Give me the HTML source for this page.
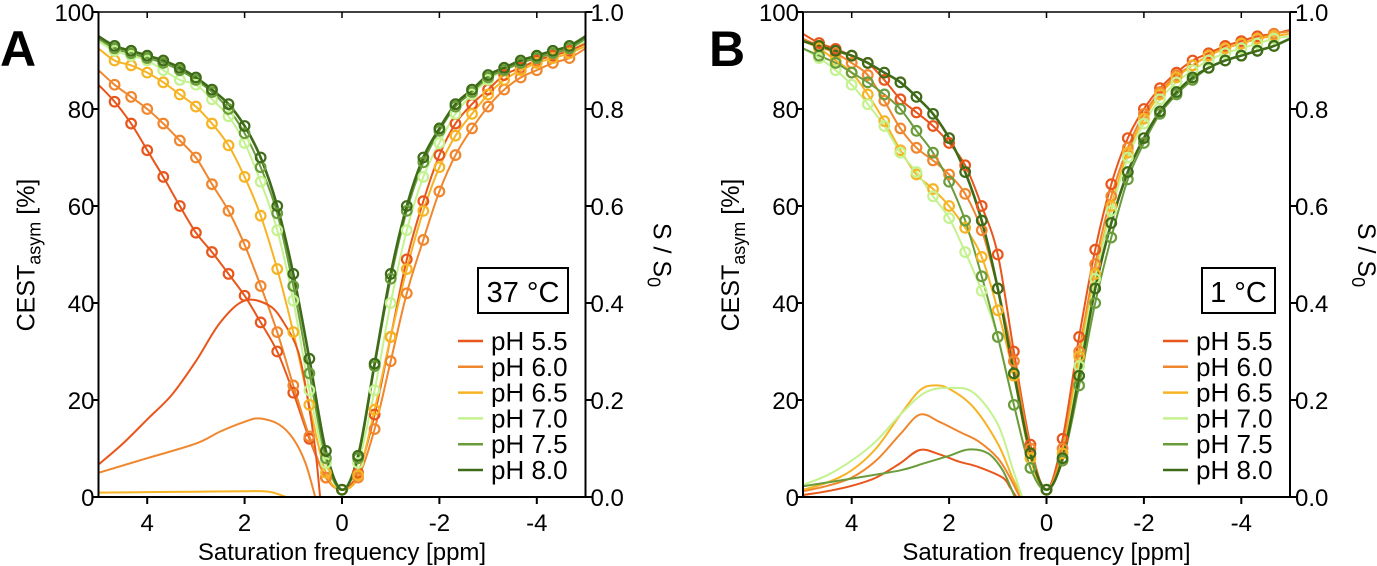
<!DOCTYPE html>
<html><head><meta charset="utf-8">
<style>
body{margin:0;background:#fff;}
svg{display:block;font-family:"Liberation Sans",sans-serif;}
</style></head>
<body>
<svg id="chart" width="1377" height="566" viewBox="0 0 1377 566"></svg>
<script>
const offsets=[5,4.67,4.33,4,3.67,3.33,3,2.67,2.33,2,1.67,1.33,1,0.67,0.33,0,-0.33,-0.67,-1,-1.33,-1.67,-2,-2.33,-2.67,-3,-3.33,-3.67,-4,-4.33,-4.67,-5];
const seriesNames=["pH 5.5","pH 6.0","pH 6.5","pH 7.0","pH 7.5","pH 8.0"];
const seriesColors=["#e8561c","#f0872e","#f6b425","#c4f28f","#6b9c3c","#3d6b18"];
const xTicks=[4,2,0,-2,-4];
const xTickLabels=["4","2","0","-2","-4"];
const yTicks=[0,20,40,60,80,100];
const yTickLabels=["0","20","40","60","80","100"];
const yRightLabels=["0.0","0.2","0.4","0.6","0.8","1.0"];
// Panel A Z-spectra (%)
const zA55=[85,81.5,77,71.5,66,60,54.5,50.5,46,41.5,36,30,21.5,12,4,1.5,5,17,33,49,61,70.5,77,81,84,87,88.5,90,91,92,93.5];
const zA60=[88,85,82.5,80,77,73.5,70,64.5,59,52,43.5,34,23,12.5,4,1.5,4,14,28,42,53,63,70.5,76,80.5,84,86.5,88,89.5,90.5,92.5];
const zA65=[92.5,90,89,87.5,85.5,83,80.5,77,72.5,66,58,47,34,19,5,1.5,4.5,18,33,47,59,68,74.5,79,83,86,88,89.5,90.5,91.5,93];
const zA70=[94,92,91,90,88,86,85,82,78.5,73,65,55,40.5,22,7,1.5,7,22,40,55,66,73,79,83,86,88,89.5,90.5,91.5,92.5,94];
const zA75=[94.5,92.5,91.5,90.5,89.5,88,86,83.5,80,75,68,58.5,43.5,25.5,8,1.5,8,27,45,59,69,75.5,80.5,83.5,86.5,88,89.5,90.5,91.5,92.5,94.5];
const zA80=[95,93,92,91,90,88.5,86.5,84,81,76.5,70,60,46,28.5,9.5,1.5,8.5,27.5,46,60,70,76,81,84,87,88.5,90,91,92,93,95];
// Panel A CEST asym
const cA55x=[5,4.5,4,3.5,3,2.5,2,1.5,1.2,0.9,0.7,0.55,0.45];
const cA55y=[6.7,11,16,21,28,36,40.5,39.5,36,30,20,10,0];
const cA60x=[5,4,3,2.5,2,1.7,1.3,1,0.75,0.55];
const cA60y=[5,8,11,13.5,15.5,16.2,15,12,7,0];
const cA65x=[5,4,3,2,1.5,1.15];
const cA65y=[0.9,1,1.1,1.2,1.1,0];
// Panel B Z-spectra (%)
const zB55=[95.5,93.6,92.4,91,89.5,86,82,79.3,76.5,73,68.4,60,50,30,10.8,1.5,12,33,51,64.5,74,80,84.3,87.5,90,91.5,93,94,95,95.5,96.3];
const zB60=[94.5,93,91.5,89.5,87,81.7,76,72,69.4,66.5,62.5,55,43,28,10,1.5,10,30,48,62,72,79,83.5,87,89,91,92.5,93.5,94.5,95.5,96];
const zB65=[94,92.5,90,87.5,83,77.5,71.5,66.5,63.5,60,55.5,49.5,38.5,25,8,1.5,9,29,46,60,71,78,83,86.5,89,91,92.5,93.5,94.5,95,95.5];
const zB70=[92.5,90.5,88,85,81,76.5,71,67,62,57.5,50.5,42.5,33,19,6,1.5,8,27,45,59,70,77,82,85.5,88,90,91.5,92.5,93.5,94.5,95];
const zB75=[92.5,91,89.5,87.5,85.5,83,80,75.5,71,65,57,45.5,33,19,6,1.5,7.5,23,40,53.5,65.5,73,79,83,86,88.5,90,91,92,93,94.5];
const zB80=[94,93,92,91,89.5,87.5,85.5,82.5,79,74,67,57,43,25.5,9,1.5,8,25,43,56.5,67,74,79.5,83.5,86.5,88.5,90,91,92,93,94.5];
// Panel B CEST asym
const cB55x=[5,4.5,4,3.5,3,2.6,2.2,1.8,1.4,0.9,0.75,0.62];
const cB55y=[0.4,1.2,2.3,4,7,9.7,8.8,7.3,6.2,4,2,0];
const cB60x=[5,4.5,4,3.5,3,2.6,2.2,1.8,1.4,1,0.75,0.55];
const cB60y=[1.2,2.3,4,7.5,13,17,15.5,13.5,11.5,8,4,0];
const cB65x=[5,4.5,4,3.5,3,2.6,2.3,2,1.5,1,0.7,0.5];
const cB65y=[1.5,3,5.5,10,17,22,23,22.3,18.5,11,4,0];
const cB70x=[5,4.5,4,3.5,3,2.5,2,1.5,1,0.7,0.5];
const cB70y=[2.5,4.5,7.5,11.5,17,21.5,22.5,21.5,15,6,0];
const cB75x=[5,4,3,2.5,2,1.6,1.2,0.9,0.65];
const cB75y=[2.2,3.8,5.5,7,8.5,9.8,9,5.5,0];

const NS="http://www.w3.org/2000/svg";
const svg=document.getElementById('chart');
function mk(tag,attrs,parent){const e=document.createElementNS(NS,tag);for(const k in attrs)e.setAttribute(k,attrs[k]);(parent||svg).appendChild(e);return e;}
function smooth(pts){let d="M"+pts[0][0].toFixed(1)+","+pts[0][1].toFixed(1);for(let i=0;i<pts.length-1;i++){const p0=pts[i-1]||pts[i],p1=pts[i],p2=pts[i+1],p3=pts[i+2]||p2;const c1=[p1[0]+(p2[0]-p0[0])/6,p1[1]+(p2[1]-p0[1])/6],c2=[p2[0]-(p3[0]-p1[0])/6,p2[1]-(p3[1]-p1[1])/6];d+="C"+c1[0].toFixed(1)+","+c1[1].toFixed(1)+" "+c2[0].toFixed(1)+","+c2[1].toFixed(1)+" "+p2[0].toFixed(1)+","+p2[1].toFixed(1);}return d;}

function panel(cfg){
  const g=mk('g',{});
  
  
  const L=cfg.left,R=cfg.right,T=12,B=497;
  const xs=v=>L+(5-v)/10*(R-L);
  const ys=v=>B-v/100*(B-T);
  cfg.z.forEach((arr,i)=>{
    const p=mk('path',{d:smooth(offsets.map((o,j)=>[xs(o),ys(arr[j])])),fill:'none',stroke:seriesColors[i],'stroke-width':i==5?2.6:2},g);
    
    
  });
  cfg.c.forEach(s=>{
    const p=mk('path',{d:smooth(s.x.map((o,j)=>[xs(o),ys(s.y[j])])),fill:'none',stroke:seriesColors[s.i],'stroke-width':2},g);
    
    
  });
  cfg.z.forEach((arr,i)=>{
    for(let j=1;j<offsets.length-1;j++){
      const c=mk('circle',{cx:xs(offsets[j]),cy:ys(arr[j]),r:4.8,fill:'none',stroke:seriesColors[i],'stroke-width':2.2},g);
      
      
    }
  });
  const ax=mk('g',{stroke:'#000','stroke-width':2,fill:'none'},g);
  
  
  mk('line',{x1:L,y1:T,x2:L,y2:B},ax);
  mk('line',{x1:R,y1:T,x2:R,y2:B},ax);
  mk('line',{x1:L,y1:B,x2:R,y2:B},ax);
  mk('line',{x1:L,y1:T,x2:R,y2:T,'stroke-width':1.5},ax);
  xTicks.forEach((t,k)=>{
    mk('line',{x1:xs(t),y1:B,x2:xs(t),y2:B+7},ax);
    mk('line',{x1:xs(t),y1:T,x2:xs(t),y2:T+6,'stroke-width':1.5},ax);
    const tx=mk('text',{x:xs(t),y:B+34,'text-anchor':'middle','font-size':24,fill:'#000',stroke:'none'},g);
    tx.textContent=xTickLabels[k];
    
    
  });
  yTicks.forEach((t,k)=>{
    mk('line',{x1:L-7,y1:ys(t),x2:L,y2:ys(t)},ax);
    mk('line',{x1:R,y1:ys(t),x2:R+7,y2:ys(t)},ax);
    const tl=mk('text',{x:L-4,y:ys(t)+9,'text-anchor':'end','font-size':24,fill:'#000'},g);
    tl.textContent=yTickLabels[k];
    
    
    const tr=mk('text',{x:R+5,y:ys(t)+9,'text-anchor':'start','font-size':24,fill:'#000'},g);
    tr.textContent=yRightLabels[k];
    
    
  });
  const xt=mk('text',{x:(L+R)/2,y:560,'text-anchor':'middle','font-size':24,fill:'#000'},g);
  xt.textContent='Saturation frequency [ppm]';
  
  
  const yt=mk('text',{transform:`translate(${L-64},255) rotate(-90)`,'text-anchor':'middle','font-size':25,fill:'#000'},g);
  yt.innerHTML='CEST<tspan font-size="18" dy="6">asym</tspan><tspan dy="-6"> [%]</tspan>';
  
  
  const yr=mk('text',{transform:`translate(${R+68},255) rotate(90)`,'text-anchor':'middle','font-size':25,fill:'#000'},g);
  yr.innerHTML='S / S<tspan font-size="18" dy="6">0</tspan>';
  
  
  const pl=mk('text',{x:cfg.letterX,y:66,'font-size':50,'font-weight':'bold',fill:'#000'},g);
  pl.textContent=cfg.letter;
  
  
  const bx=mk('rect',{x:cfg.boxX,y:268,width:cfg.boxW,height:45,fill:'#fff',stroke:'#000','stroke-width':2},g);
  
  
  const bt=mk('text',{x:cfg.boxX+cfg.boxW/2,y:302,'text-anchor':'middle','font-size':29,fill:'#000'},g);
  bt.textContent=cfg.temp;
  
  
  seriesNames.forEach((n,i)=>{
    const yy=341+i*25.8;
    const le=mk('g',{},g);
    
    
    mk('line',{x1:cfg.legX,y1:yy,x2:cfg.legX+25,y2:yy,stroke:seriesColors[i],'stroke-width':2.5},le);
    const t=mk('text',{x:cfg.legX+33,y:yy+9,'font-size':26,fill:'#000'},le);
    t.textContent=n;
  });
}
panel({id:'panel-a',left:98.5,right:585.5,letter:'A',letterX:0,boxX:478,boxW:90,temp:'37 °C',legX:458,
  z:[zA55,zA60,zA65,zA70,zA75,zA80],
  c:[{i:0,x:cA55x,y:cA55y},{i:1,x:cA60x,y:cA60y},{i:2,x:cA65x,y:cA65y}]});
panel({id:'panel-b',left:803,right:1290,letter:'B',letterX:709,boxX:1202,boxW:73,temp:'1 °C',legX:1163,
  z:[zB55,zB60,zB65,zB70,zB75,zB80],
  c:[{i:0,x:cB55x,y:cB55y},{i:1,x:cB60x,y:cB60y},{i:2,x:cB65x,y:cB65y},{i:3,x:cB70x,y:cB70y},{i:4,x:cB75x,y:cB75y}]});
</script>
</body></html>
